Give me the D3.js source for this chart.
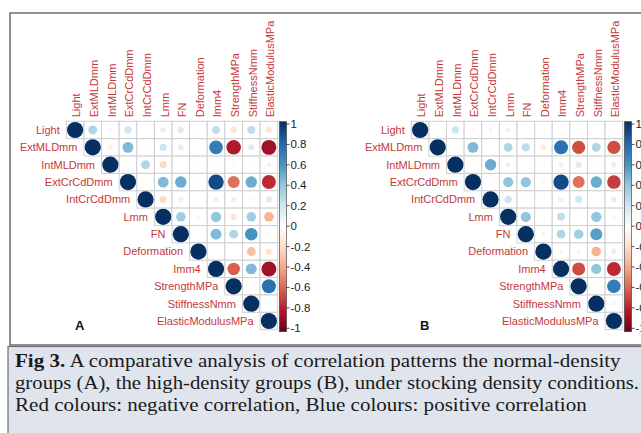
<!DOCTYPE html>
<html>
<head>
<meta charset="utf-8">
<script src="https://cdn.jsdelivr.net/npm/d3@7"></script>
<style>
  html, body { margin: 0; padding: 0; background: #ffffff; }
  svg { display: block; }
</style>
</head>
<body>
<svg id="chart" width="641" height="433"></svg>
<script>
// ---------- data ----------
const variables = ["Light", "ExtMLDmm", "IntMLDmm", "ExtCrCdDmm", "IntCrCdDmm", "Lmm", "FN",
  "Deformation", "Imm4", "StrengthMPa", "StiffnessNmm", "ElasticModulusMPa"];

// upper-triangle correlations, row by row (columns to the right of the diagonal)
const corrA = [
  [0.30, 0.05, 0.20, 0.01, 0.12, 0.15, 0.03, 0.25, -0.15, 0.25, -0.15],
  [-0.10, 0.45, 0.03, 0.20, 0.12, 0.02, 0.70, -0.80, 0.15, -0.85],
  [0.05, 0.30, -0.20, 0.02, 0.03, 0.03, 0.04, 0.04, 0.08],
  [0.00, 0.45, 0.50, -0.03, 0.90, -0.55, 0.50, -0.75],
  [-0.20, -0.10, 0.00, -0.10, 0.10, -0.05, 0.15],
  [0.35, -0.05, 0.40, -0.15, 0.35, -0.35],
  [0.00, 0.45, 0.30, 0.60, -0.05],
  [0.02, 0.02, -0.30, -0.15],
  [-0.60, 0.45, -0.85],
  [0.03, 0.75],
  [0.05]
];
const corrB = [
  [0.03, 0.20, -0.05, 0.07, 0.10, 0.00, 0.03, -0.04, 0.03, 0.02, 0.04],
  [0.02, 0.45, 0.02, 0.30, 0.25, -0.12, 0.75, -0.65, 0.30, -0.65],
  [0.00, 0.50, 0.10, 0.02, 0.03, -0.10, 0.15, 0.03, 0.12],
  [0.03, 0.40, 0.40, -0.05, 0.90, -0.55, 0.50, -0.70],
  [0.20, 0.04, 0.03, -0.10, 0.20, 0.00, 0.12],
  [0.40, 0.00, 0.25, 0.00, 0.40, -0.06],
  [0.08, 0.30, 0.35, 0.55, 0.00],
  [-0.07, 0.07, -0.35, -0.12],
  [-0.65, 0.40, -0.75],
  [0.00, 0.70],
  [0.06]
];
const panelLabels = ["A", "B"];
const legendTicks = [1, 0.8, 0.6, 0.4, 0.2, 0, -0.2, -0.4, -0.6, -0.8, -1];
const captionBold = "Fig 3.";
const captionLines = [
  " A comparative analysis of correlation patterns the normal-density",
  "groups (A), the high-density groups (B), under stocking density conditions.",
  "Red colours: negative correlation, Blue colours: positive correlation"
];
const paletteStops = ["#67001F", "#B2182B", "#D6604D", "#F4A582", "#FDDBC7", "#FFFFFF",
  "#D1E5F0", "#92C5DE", "#4393C3", "#2166AC", "#053061"];

// ---------- helpers ----------
const svg = d3.select("#chart");
const n = variables.length;
const color = d3.scaleLinear()
  .domain(d3.range(paletteStops.length).map(i => -1 + i * 2 / (paletteStops.length - 1)))
  .range(paletteStops)
  .interpolate(d3.interpolateRgb);

function fullMatrix(tri) {
  const m = [];
  for (let i = 0; i < n; i++) {
    m.push([]);
    for (let j = 0; j < n; j++) {
      if (i === j) m[i].push(1);
      else if (j > i) m[i].push(tri[i][j - i - 1]);
      else m[i].push(null);
    }
  }
  return m;
}

// ---------- frame ----------
svg.append("rect").attr("x", 0).attr("y", 0).attr("width", 641).attr("height", 433).attr("fill", "#ffffff");
svg.append("rect").attr("x", 10).attr("y", 13).attr("width", 660).attr("height", 332)
  .attr("fill", "#ffffff").attr("stroke", "#6e6e6e").attr("stroke-width", 1.5);

// ---------- panels ----------
const labelFont = "'Liberation Sans', Arial, sans-serif";
function drawPanel(tri, offsetX, label) {
  const m = fullMatrix(tri);
  const g = svg.append("g").attr("transform", `translate(${offsetX},0)`);
  const left = 66.3, top = 121.3, right = 277.7, bottom = 329.7;
  const x = d3.scaleBand().domain(variables).range([left, right]);
  const y = d3.scaleBand().domain(variables).range([top, bottom]);
  const cw = x.bandwidth();

  const cells = [];
  for (let i = 0; i < n; i++) for (let j = i; j < n; j++) cells.push({ r: variables[i], c: variables[j], v: m[i][j] });

  g.append("g").selectAll("rect").data(cells).join("rect")
    .attr("x", d => x(d.c)).attr("y", d => y(d.r))
    .attr("width", cw).attr("height", y.bandwidth())
    .attr("fill", "#ffffff").attr("stroke", "#cfcfcf").attr("stroke-width", 1);

  const rScale = d3.scaleSqrt().domain([0, 1]).range([0, 0.46 * cw]);
  g.append("g").selectAll("circle").data(cells).join("circle")
    .attr("cx", d => x(d.c) + cw / 2).attr("cy", d => y(d.r) + y.bandwidth() / 2)
    .attr("r", d => rScale(Math.abs(d.v)))
    .attr("fill", d => color(d.v));

  // row labels
  g.append("g").selectAll("text").data(variables).join("text")
    .attr("x", d => x(d) - 6.5).attr("y", d => y(d) + y.bandwidth() / 2)
    .attr("dy", "0.35em").attr("text-anchor", "end")
    .attr("font-family", labelFont).attr("font-size", 11).attr("fill", "#c5383a")
    .text(d => d);

  // column labels
  g.append("g").selectAll("text").data(variables).join("text")
    .attr("transform", d => `translate(${x(d) + cw / 2 + 1.5},${top - 4}) rotate(-90)`)
    .attr("dy", "0.35em").attr("text-anchor", "start")
    .attr("font-family", labelFont).attr("font-size", 11).attr("fill", "#c5383a")
    .text(d => d);

  // color legend
  const barX = 279.5, barW = 7, barTop = 121.7, barBot = 331.7;
  const gradId = "grad" + label;
  const grad = svg.append("defs").append("linearGradient").attr("id", gradId)
    .attr("x1", 0).attr("y1", 1).attr("x2", 0).attr("y2", 0);
  d3.range(0, 1.0001, 0.05).forEach(t => {
    grad.append("stop").attr("offset", t).attr("stop-color", color(-1 + 2 * t));
  });
  g.append("rect").attr("x", barX).attr("y", barTop).attr("width", barW).attr("height", barBot - barTop)
    .attr("fill", `url(#${gradId})`).attr("stroke", "#333").attr("stroke-width", 0.6);
  const ly = d3.scaleLinear().domain([-1, 1]).range([328.3, 124]);
  const tk = g.append("g").selectAll("g").data(legendTicks).join("g")
    .attr("transform", d => `translate(0,${ly(d)})`);
  tk.append("line").attr("x1", barX + barW).attr("x2", barX + barW + 3)
    .attr("stroke", "#222").attr("stroke-width", 0.8);
  tk.append("text").attr("x", barX + barW + 4).attr("dy", "0.35em")
    .attr("font-family", labelFont).attr("font-size", 11.5).attr("fill", "#222")
    .text(d => String(d));

  g.append("text").attr("x", 75).attr("y", 330)
    .attr("font-family", labelFont).attr("font-weight", "bold").attr("font-size", 13)
    .attr("fill", "#111").text(label);
}
drawPanel(corrA, 0, panelLabels[0]);
drawPanel(corrB, 345, panelLabels[1]);

// ---------- caption ----------
svg.append("rect").attr("x", 8).attr("y", 346.5).attr("width", 660).attr("height", 100)
  .attr("fill", "#dfe4ed").attr("stroke", "#6e6e6e").attr("stroke-width", 1.2);
const capFont = "'Liberation Serif', 'Times New Roman', serif";
const cap = svg.append("g").attr("font-family", capFont).attr("font-size", 19).attr("fill", "#1a1a1a");
const t1 = cap.append("text").attr("x", 0).attr("y", 367);
t1.append("tspan").attr("font-weight", "bold").text(captionBold);
t1.append("tspan").text(captionLines[0]);
const t2 = cap.append("text").attr("x", 0).attr("y", 389).text(captionLines[1]);
const t3 = cap.append("text").attr("x", 0).attr("y", 411).text(captionLines[2]);
// stretch horizontally so the last line spans like the reference (Minion-like width)
const w3 = t3.node().getComputedTextLength();
const sx = 572 / w3;
cap.attr("transform", `translate(15,0) scale(${sx},1)`);
// the second line is set tight (justified) in the reference so it ends at the right edge
t2.attr("textLength", 624 / sx).attr("lengthAdjust", "spacingAndGlyphs");
</script>
</body>
</html>
